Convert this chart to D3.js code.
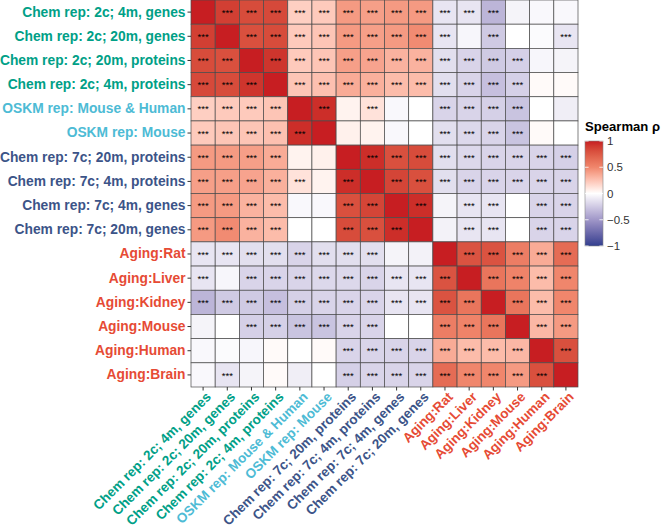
<!DOCTYPE html>
<html><head><meta charset="utf-8">
<script src="https://cdn.jsdelivr.net/npm/d3@7"></script>
<style>body{margin:0;background:#fff} svg{display:block}</style>
</head><body>
<svg id="c" width="666" height="529"></svg>
<script>
// ---- data ----
const labels = [
  "Chem rep: 2c; 4m, genes",
  "Chem rep: 2c; 20m, genes",
  "Chem rep: 2c; 20m, proteins",
  "Chem rep: 2c; 4m, proteins",
  "OSKM rep: Mouse & Human",
  "OSKM rep: Mouse",
  "Chem rep: 7c; 20m, proteins",
  "Chem rep: 7c; 4m, proteins",
  "Chem rep: 7c; 4m, genes",
  "Chem rep: 7c; 20m, genes",
  "Aging:Rat", "Aging:Liver", "Aging:Kidney", "Aging:Mouse", "Aging:Human", "Aging:Brain"
];
const groups = ["chem2c","chem2c","chem2c","chem2c","oskm","oskm","chem7c","chem7c","chem7c","chem7c",
  "aging","aging","aging","aging","aging","aging"];
const groupColors = {chem2c:"#00A087", oskm:"#4DBBD5", chem7c:"#3C5488", aging:"#E64B35"};

// Spearman rho (symmetric), rows/cols in label order
const rho = [
  [ 1.00, 0.88, 0.82, 0.83, 0.20, 0.22, 0.42, 0.40, 0.42, 0.42,-0.12,-0.12,-0.35,-0.05,-0.03,-0.03],
  [ 0.88, 1.00, 0.80, 0.82, 0.22, 0.24, 0.42, 0.40, 0.42, 0.48,-0.12,-0.04,-0.25, 0.00,-0.02,-0.12],
  [ 0.82, 0.80, 1.00, 0.92, 0.22, 0.24, 0.40, 0.38, 0.32, 0.32,-0.15,-0.20,-0.25,-0.22,-0.04,-0.05],
  [ 0.83, 0.82, 0.92, 1.00, 0.24, 0.26, 0.35, 0.33, 0.28, 0.28,-0.15,-0.20,-0.30,-0.22, 0.02, 0.02],
  [ 0.20, 0.22, 0.22, 0.24, 1.00, 0.95, 0.05, 0.12,-0.03, 0.00,-0.20,-0.20,-0.22,-0.28, 0.00,-0.08],
  [ 0.22, 0.24, 0.24, 0.26, 0.95, 1.00, 0.06, 0.05,-0.03, 0.00,-0.15,-0.18,-0.20,-0.28, 0.02, 0.00],
  [ 0.42, 0.42, 0.40, 0.35, 0.05, 0.06, 1.00, 0.95, 0.80, 0.82,-0.15,-0.18,-0.20,-0.20,-0.20,-0.22],
  [ 0.40, 0.40, 0.38, 0.33, 0.12, 0.05, 0.95, 1.00, 0.85, 0.80,-0.15,-0.20,-0.20,-0.20,-0.20,-0.20],
  [ 0.42, 0.42, 0.32, 0.28,-0.03,-0.03, 0.80, 0.85, 1.00, 0.95,-0.05,-0.12,-0.12, 0.00,-0.20,-0.20],
  [ 0.42, 0.48, 0.32, 0.28, 0.00, 0.00, 0.82, 0.80, 0.95, 1.00,-0.06,-0.12,-0.12, 0.00,-0.20,-0.20],
  [-0.12,-0.12,-0.15,-0.15,-0.20,-0.15,-0.15,-0.15,-0.05,-0.06, 1.00, 0.78, 0.78, 0.55, 0.35, 0.65],
  [-0.12,-0.04,-0.20,-0.20,-0.20,-0.18,-0.18,-0.20,-0.12,-0.12, 0.78, 1.00, 0.60, 0.52, 0.28, 0.50],
  [-0.35,-0.25,-0.25,-0.30,-0.22,-0.20,-0.20,-0.20,-0.12,-0.12, 0.78, 0.60, 1.00, 0.60, 0.28, 0.50],
  [-0.05, 0.00,-0.22,-0.22,-0.28,-0.28,-0.20,-0.20, 0.00, 0.00, 0.55, 0.52, 0.60, 1.00, 0.30, 0.42],
  [-0.03,-0.02,-0.04, 0.02, 0.00, 0.02,-0.20,-0.20,-0.20,-0.20, 0.35, 0.28, 0.28, 0.30, 1.00, 0.80],
  [-0.03,-0.12,-0.05, 0.02,-0.08, 0.00,-0.22,-0.20,-0.20,-0.20, 0.65, 0.50, 0.50, 0.42, 0.80, 1.00]
];
// significance (1 = ***)
const sig = [
  "0111111111111000",
  "1011111111101001",
  "1101111111111100",
  "1110111111111100",
  "1111010100111100",
  "1111100000111100",
  "1111000111111111",
  "1111101011111111",
  "1111001101011011",
  "1111001110011011",
  "1111111100011111",
  "1011111111101111",
  "1111111111110111",
  "0011111100111011",
  "0000001111111101",
  "0100001111111110"
];
const legendTicks = [-1, -0.5, 0, 0.5, 1];
const legendTitle = "Spearman ρ";

// ---- drawing ----
const svg = d3.select("#c");
const FONT = "'Liberation Sans', Arial, Helvetica, sans-serif";
const gx0 = 191, gx1 = 578, gy0 = 0, gy1 = 387;

const x = d3.scaleBand().domain(labels).range([gx0, gx1]);
const y = d3.scaleBand().domain(labels).range([gy0, gy1]);
const color = d3.scaleLinear()
  .domain([-1, -0.5, 0, 0.5, 1])
  .range(["#313E8E", "#A097C8", "#FFFFFF", "#F0866C", "#C71E22"])
  .interpolate(d3.interpolateLab);

const cells = [];
labels.forEach((r, i) => labels.forEach((c, j) => cells.push({r, c, v: rho[i][j], s: sig[i][j] === "1"})));

const g = svg.append("g");
g.selectAll("rect.cell").data(cells).join("rect")
  .attr("class", "cell")
  .attr("x", d => x(d.c)).attr("y", d => y(d.r))
  .attr("width", x.bandwidth()).attr("height", y.bandwidth())
  .attr("fill", d => color(d.v))
  .attr("stroke", "#4a4a4a").attr("stroke-width", 0.7);

g.selectAll("text.star").data(cells.filter(d => d.s)).join("text")
  .attr("class", "star")
  .attr("x", d => x(d.c) + x.bandwidth() / 2)
  .attr("y", d => y(d.r) + y.bandwidth() / 2 + 3.6)
  .attr("text-anchor", "middle")
  .attr("font-family", FONT).attr("font-size", 9.5).attr("fill", "#000")
  .text("***");

const colorOf = l => groupColors[groups[labels.indexOf(l)]];

// y axis
const ya = svg.append("g").attr("transform", `translate(${gx0},0)`)
  .call(d3.axisLeft(y).tickSize(3.5).tickPadding(2));
ya.select(".domain").remove();
ya.selectAll(".tick line").attr("stroke", "#333");
ya.selectAll(".tick text")
  .attr("font-family", FONT).attr("font-size", 13.8).attr("font-weight", "bold")
  .attr("fill", d => colorOf(d));

// x axis
const xa = svg.append("g").attr("transform", `translate(0,${gy1})`)
  .call(d3.axisBottom(x).tickSize(3.5).tickPadding(2));
xa.select(".domain").remove();
xa.selectAll(".tick line").attr("stroke", "#333");
xa.selectAll(".tick text")
  .attr("font-family", FONT).attr("font-size", 13.5).attr("font-weight", "bold")
  .attr("fill", d => colorOf(d))
  .attr("text-anchor", "end")
  .attr("x", 0).attr("y", 0).attr("dy", "0.71em")
  .attr("transform", "translate(2,4) rotate(-45)");

// legend
const lx = 585, ly0 = 141, lw = 18, lh = 105;
const defs = svg.append("defs");
const grad = defs.append("linearGradient").attr("id", "lg")
  .attr("x1", 0).attr("y1", 1).attr("x2", 0).attr("y2", 0);
d3.range(0, 1.0001, 0.05).forEach(t => {
  grad.append("stop").attr("offset", t).attr("stop-color", color(-1 + 2 * t));
});
const ls = d3.scaleLinear().domain([-1, 1]).range([ly0 + lh, ly0]);
svg.append("rect").attr("x", lx).attr("y", ly0).attr("width", lw).attr("height", lh)
  .attr("fill", "url(#lg)").attr("stroke", "#888").attr("stroke-width", 0.6);
const lg = svg.append("g");
legendTicks.forEach(t => {
  lg.append("line").attr("x1", lx).attr("x2", lx + 3.6).attr("y1", ls(t)).attr("y2", ls(t))
    .attr("stroke", "#fff").attr("stroke-width", 0.8);
  lg.append("line").attr("x1", lx + lw - 3.6).attr("x2", lx + lw).attr("y1", ls(t)).attr("y2", ls(t))
    .attr("stroke", "#fff").attr("stroke-width", 0.8);
  lg.append("text").attr("x", lx + lw + 4).attr("y", ls(t)).attr("dy", "0.35em")
    .attr("font-family", FONT).attr("font-size", 11.5).attr("fill", "#333")
    .text(t === 0 ? "0" : (t < 0 ? "\u2212" + Math.abs(t) : String(t)));
});
svg.append("text").attr("x", lx).attr("y", 131)
  .attr("font-family", FONT).attr("font-size", 13.1).attr("font-weight", "bold").attr("fill", "#000")
  .text(legendTitle);
</script>
</body></html>
